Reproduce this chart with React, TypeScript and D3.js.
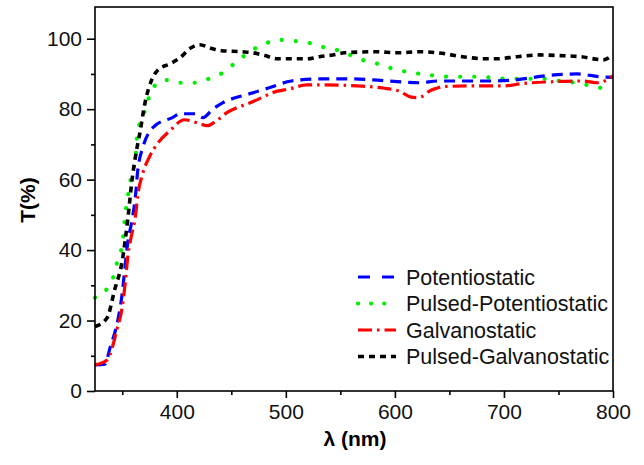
import React, { useRef, useEffect } from "react";
import * as d3 from "d3";

// wavelength (nm) / transmittance (%)
const potWl = [325, 334, 339, 346, 350, 352.5, 355, 359, 362, 364, 369, 375, 380, 396, 403, 417, 424, 433, 442, 460, 467, 484, 505, 531, 559, 580, 602, 623, 639, 667, 689, 710, 739, 767, 788, 800];
const potT = [7.4, 7.6, 12.5, 20.2, 27.8, 35.2, 42, 48.6, 55, 62, 69.3, 73.6, 75.3, 77.6, 78.7, 78.7, 77.6, 80, 81.8, 83.8, 84.4, 86, 88, 88.6, 88.6, 88.3, 87.8, 87.5, 88, 88, 88, 88.3, 89.5, 90, 89.2, 89];

const pulPotWl = [325, 337, 343, 346, 350, 352.5, 355, 359, 362, 364, 369, 373, 378, 389, 403, 416, 429, 442, 455, 467, 481, 494, 507, 520, 533, 546, 559, 572, 584, 598, 611, 624, 637, 650, 676, 703, 740, 754, 767, 780, 792, 800];
const pulPotT = [26.5, 29.5, 33.5, 37.5, 41.5, 49.4, 55, 62, 65.6, 73.6, 77.8, 82, 86, 88.3, 87.5, 87.5, 88.6, 90.3, 93.5, 96.3, 98.6, 99.7, 99.4, 98.9, 97.7, 96.9, 95.4, 93.8, 92.9, 91.5, 90.6, 90, 89.5, 89.2, 89.2, 88.6, 88.6, 87.8, 87.5, 86.6, 85.8, 85];

const galWl = [325, 336, 341, 345, 350, 353, 355, 359, 362, 364, 369, 375, 383, 394, 407, 419, 428, 435, 446, 455, 463, 476, 488, 504, 519, 534, 565, 589, 605, 614, 620, 625, 632, 639, 644, 672, 701, 715, 745, 772, 786, 800];
const galT = [7.4, 8.8, 12.5, 17.3, 23.9, 31.5, 38, 44.9, 49.4, 55, 62, 66.5, 70.5, 74, 77, 76.1, 75.3, 76.4, 79, 80.4, 81.3, 83, 84.7, 85.8, 86.9, 86.9, 86.6, 86, 85, 83.5, 83.3, 83.6, 85.2, 86, 86.4, 86.6, 86.6, 87.2, 87.8, 88, 87.5, 89.5];

const pulGalWl = [325, 336, 343, 350, 355, 359, 363.5, 366, 371, 377, 383, 394, 403, 412, 421, 432, 441, 460, 470, 481, 492, 510, 520, 531, 543, 554, 583, 602, 623, 639, 662, 682, 693, 712, 733, 751, 770, 791, 800];
const pulGalT = [18.3, 20.7, 28.7, 37, 48.6, 60, 69, 73, 82, 88.3, 91.2, 92.9, 94.6, 97.2, 98.3, 97.2, 96.6, 96.3, 96, 95.2, 94.3, 94.3, 94.3, 94.9, 95.4, 96, 96.3, 96, 96.3, 96, 94.9, 94.3, 94.3, 94.9, 95.4, 95.2, 94.9, 94, 95.5];

const seriesNames = ["Potentiostatic", "Pulsed-Potentiostatic", "Galvanostatic", "Pulsed-Galvanostatic"];
const xMajor = [400, 500, 600, 700, 800];
const xMinor = [350, 450, 550, 650, 750];
const yMajor = [0, 20, 40, 60, 80, 100];
const yMinor = [10, 30, 50, 70, 90];

const styles = [
  { color: "#0000ff", dash: "11,7", cap: "butt", width: 3.2 },
  { color: "#00ee00", dash: "0.1,14", cap: "round", width: 4.2 },
  { color: "#ff0000", dash: "14,5,2.5,5", cap: "butt", width: 3.2 },
  { color: "#000000", dash: "6,5", cap: "butt", width: 3.6 },
];

const W = 644;
const H = 465;
const m = { left: 95, right: 31, top: 7, bottom: 74 };

const App = () => {
  const ref = useRef<SVGSVGElement | null>(null);

  useEffect(() => {
    const svg = d3.select(ref.current);
    svg.selectAll("*").remove();
    const font = "'Liberation Sans', Arial, sans-serif";

    const x = d3.scaleLinear().domain([325, 800]).range([m.left, W - m.right]);
    const y = d3.scaleLinear().domain([0, 109]).range([H - m.bottom, m.top]);

    const data = [
      potWl.map((w, i) => [w, potT[i]]),
      pulPotWl.map((w, i) => [w, pulPotT[i]]),
      galWl.map((w, i) => [w, galT[i]]),
      pulGalWl.map((w, i) => [w, pulGalT[i]]),
    ];

    const line = d3
      .line<number[]>()
      .x((d) => x(d[0]))
      .y((d) => y(d[1]))
      .curve(d3.curveMonotoneX);

    const plot = svg.append("g");
    [1, 3, 0, 2].forEach((k) => {
      const s = styles[k];
      plot
        .append("path")
        .datum(data[k])
        .attr("fill", "none")
        .attr("stroke", s.color)
        .attr("stroke-width", s.width)
        .attr("stroke-dasharray", s.dash)
        .attr("stroke-linecap", s.cap)
        .attr("d", line);
    });

    // frame
    svg
      .append("rect")
      .attr("x", m.left)
      .attr("y", m.top)
      .attr("width", W - m.left - m.right)
      .attr("height", H - m.top - m.bottom)
      .attr("fill", "none")
      .attr("stroke", "#000")
      .attr("stroke-width", 1.6);

    const xAxis = d3.axisBottom(x).tickValues(xMajor).tickSize(7).tickPadding(6).tickFormat(d3.format("d"));
    const gx = svg.append("g").attr("transform", `translate(0,${H - m.bottom})`).call(xAxis);
    svg
      .append("g")
      .attr("transform", `translate(0,${H - m.bottom})`)
      .call(d3.axisBottom(x).tickValues(xMinor).tickSize(4).tickFormat(() => ""));

    const yAxis = d3.axisLeft(y).tickValues(yMajor).tickSize(8).tickPadding(5).tickFormat(d3.format("d"));
    const gy = svg.append("g").attr("transform", `translate(${m.left},0)`).call(yAxis);
    svg
      .append("g")
      .attr("transform", `translate(${m.left},0)`)
      .call(d3.axisLeft(y).tickValues(yMinor).tickSize(4).tickFormat(() => ""));

    svg.selectAll(".domain").remove();
    svg.selectAll(".tick line").attr("stroke", "#000").attr("stroke-width", 1.6);
    gx.selectAll("text").attr("font-family", font).attr("font-size", 21).attr("fill", "#111");
    gy.selectAll("text").attr("font-family", font).attr("font-size", 21).attr("fill", "#111");

    svg
      .append("text")
      .attr("x", 355)
      .attr("y", 446)
      .attr("text-anchor", "middle")
      .attr("font-family", font)
      .attr("font-weight", "bold")
      .attr("font-size", 21)
      .text("λ (nm)");

    svg
      .append("text")
      .attr("transform", `translate(35,200) rotate(-90)`)
      .attr("text-anchor", "middle")
      .attr("font-family", font)
      .attr("font-weight", "bold")
      .attr("font-size", 21)
      .text("T(%)");

    // legend
    const lg = svg.append("g");
    const legendDash = ["12,12", "0.1,13", "14,5,2.5,5", "6,5"];
    seriesNames.forEach((name, i) => {
      const yy = 277 + i * 26.5;
      const s = styles[i];
      lg.append("line")
        .attr("x1", 358)
        .attr("x2", 396)
        .attr("y1", yy)
        .attr("y2", yy)
        .attr("stroke", s.color)
        .attr("stroke-width", s.width)
        .attr("stroke-linecap", s.cap)
        .attr("stroke-dasharray", legendDash[i]);
      lg.append("text")
        .attr("x", 406)
        .attr("y", yy + 7.5)
        .attr("font-family", font)
        .attr("font-size", 21.5)
        .attr("fill", "#111")
        .text(name);
    });
  }, []);

  return <svg ref={ref} width={W} height={H} style={{ position: "absolute", left: 0, top: 0 }} />;
};

export default App;
